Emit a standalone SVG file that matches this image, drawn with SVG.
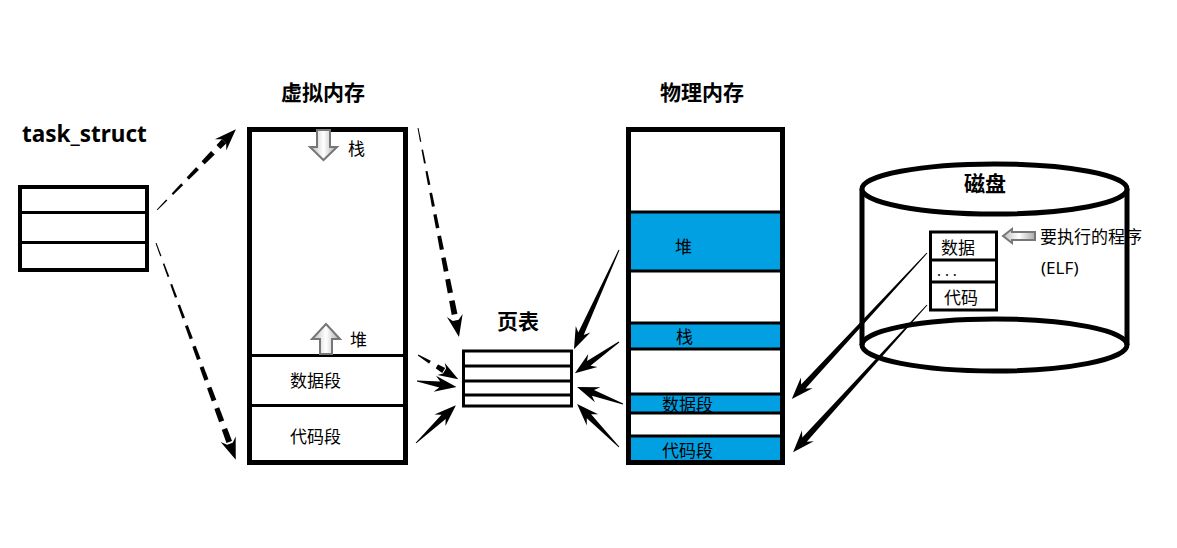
<svg xmlns="http://www.w3.org/2000/svg" width="1177" height="548" viewBox="0 0 1177 548">
<style>
.box{fill:none;stroke:#000;stroke-width:5}
.ln{stroke:#000;stroke-width:3}
.t{font-family:"Noto Sans CJK SC",sans-serif;font-size:17px;fill:#000}
.tt{font-family:"Noto Sans CJK SC",sans-serif;font-size:21px;font-weight:bold;fill:#000;text-anchor:middle}
.hol{fill:url(#hg);stroke:#777;stroke-width:2}
</style>
<defs>
<linearGradient id="hg" x1="0" y1="0" x2="1" y2="0">
<stop offset="0" stop-color="#bbb"/><stop offset="0.5" stop-color="#fff"/><stop offset="1" stop-color="#aaa"/>
</linearGradient>
<mask id="dash" maskUnits="userSpaceOnUse" x="-10" y="-30" width="420" height="60">
<line x1="0" y1="0" x2="400" y2="0" stroke="#fff" stroke-width="30" stroke-dasharray="14 8"/>
</mask>
</defs>
<rect width="1177" height="548" fill="#fff"/>

<g id="task_struct">
<text x="22" y="142" font-family="Noto Sans, sans-serif" font-size="22.5" font-weight="bold">task_struct</text>
<rect x="20" y="187" width="127" height="83" fill="#fff" stroke="#000" stroke-width="4"/>
<line class="ln" x1="20" y1="212.5" x2="147" y2="212.5"/>
<line class="ln" x1="20" y1="242.5" x2="147" y2="242.5"/>
</g>

<g id="virtual">
<text class="tt" x="323" y="100">虚拟内存</text>
<rect class="box" x="249.5" y="129.5" width="156" height="333"/>
<line class="ln" x1="249" y1="355.5" x2="406" y2="355.5"/>
<line class="ln" x1="249" y1="405.5" x2="406" y2="405.5"/>
<path class="hol" d="M317,130 L330,130 L330,147 L337,147 L323.5,160 L310,147 L317,147 Z"/>
<text class="t" x="348" y="155" font-size="16">栈</text>
<path class="hol" d="M326,324 L340,339 L332,339 L332,354 L320,354 L320,339 L312,339 Z"/>
<text class="t" x="350" y="346" font-size="16">堆</text>
<text class="t" x="290" y="387">数据段</text>
<text class="t" x="290" y="443">代码段</text>
</g>

<g id="pagetable">
<text class="tt" x="518" y="329">页表</text>
<rect x="463.5" y="351" width="108" height="55" fill="#fff" stroke="#000" stroke-width="3"/>
<line class="ln" x1="463" y1="366" x2="572" y2="366"/>
<line class="ln" x1="463" y1="381" x2="572" y2="381"/>
<line class="ln" x1="463" y1="395" x2="572" y2="395"/>
</g>

<g id="physical">
<text class="tt" x="702" y="100">物理内存</text>
<rect x="628.5" y="212" width="154" height="59" fill="#00a0e3" stroke="#000" stroke-width="3"/>
<rect x="628.5" y="323" width="154" height="26" fill="#00a0e3" stroke="#000" stroke-width="3"/>
<rect x="628.5" y="394" width="154" height="19" fill="#00a0e3" stroke="#000" stroke-width="3"/>
<rect x="628.5" y="436" width="154" height="27" fill="#00a0e3" stroke="#000" stroke-width="3"/>
<rect class="box" x="628.5" y="129.5" width="154" height="333"/>
<text class="t" x="675" y="253">堆</text>
<text class="t" x="676" y="343">栈</text>
<text class="t" x="662" y="411">数据段</text>
<text class="t" x="662" y="457">代码段</text>
</g>

<g id="disk">
<line x1="862" y1="189" x2="862" y2="345" stroke="#000" stroke-width="5"/>
<line x1="1127" y1="189" x2="1127" y2="345" stroke="#000" stroke-width="5"/>
<ellipse cx="994.5" cy="345" rx="132.5" ry="26" fill="none" stroke="#000" stroke-width="5"/>
<ellipse cx="994.5" cy="189" rx="132.5" ry="25" fill="#fff" stroke="#000" stroke-width="5"/>
<text class="tt" x="985" y="191">磁盘</text>
<rect x="930.5" y="232" width="66" height="78" fill="#fff" stroke="#000" stroke-width="3"/>
<line class="ln" x1="930" y1="260" x2="997" y2="260"/>
<line class="ln" x1="930" y1="282" x2="997" y2="282"/>
<text class="t" x="941" y="254">数据</text>
<text x="937" y="276" font-family="Noto Sans, sans-serif" font-size="15">. . .</text>
<text class="t" x="944" y="304">代码</text>
<path class="hol" d="M1003,236 L1012,229 L1012,232 L1035,232 L1035,240 L1012,240 L1012,243 Z"/>
<text class="t" x="1040" y="243" font-size="16">要执行的程序</text>
<text x="1041" y="274" font-family="Noto Sans, sans-serif" font-size="17">(ELF)</text>
</g>

<g id="connectors" fill="#000">
<g transform="translate(157,210) rotate(-45.7)">
<path mask="url(#dash)" d="M0,-0.5 L96,-3 L96,3 L0,0.5Z"/>
<path d="M113,0 L91,-8 L96,-3 L96,3 L91,8Z"/>
</g>
<g transform="translate(156,243) rotate(69.8)">
<path mask="url(#dash)" d="M0,-0.5 L214,-3 L214,3 L0,0.5Z"/>
<path d="M231,0 L209,-8 L214,-3 L214,3 L209,8Z"/>
</g>
<g transform="translate(418,128) rotate(78.9)">
<path mask="url(#dash)" d="M0,-0.5 L196,-3 L196,3 L0,0.5Z"/>
<path d="M213,0 L191,-8 L196,-3 L196,3 L191,8Z"/>
</g>
<g transform="translate(418,355) rotate(31)">
<path mask="url(#dash)" d="M0,-0.5 L30,-3 L30,3 L0,0.5Z"/>
<path d="M47,0 L27,-7 L31,-3 L31,3 L27,7Z"/>
</g>
<path transform="translate(417,381) rotate(8.7)" d="M0,-0.5 L23,-3 L18,-8 L40,0 L18,8 L23,3 L0,0.5Z"/>
<path transform="translate(416,443) rotate(-43.5)" d="M0,-0.5 L38,-3 L33,-8 L55,0 L33,8 L38,3 L0,0.5Z"/>
<path transform="translate(619,250) rotate(114.4)" d="M0,-0.5 L92,-3 L87,-8 L109,0 L87,8 L92,3 L0,0.5Z"/>
<path transform="translate(619,342) rotate(144.8)" d="M0,-0.5 L37,-3 L32,-8 L54,0 L32,8 L37,3 L0,0.5Z"/>
<path transform="translate(623,404) rotate(-159.7)" d="M0,-0.5 L32,-3 L27,-8 L49,0 L27,8 L32,3 L0,0.5Z"/>
<path transform="translate(619,447) rotate(-134.3)" d="M0,-0.5 L43,-3 L38,-8 L60,0 L38,8 L43,3 L0,0.5Z"/>
<path transform="translate(927,253) rotate(132.8)" d="M0,-0.5 L182,-3 L177,-8 L199,0 L177,8 L182,3 L0,0.5Z"/>
<path transform="translate(927,305) rotate(132.3)" d="M0,-0.5 L182,-3 L177,-8 L199,0 L177,8 L182,3 L0,0.5Z"/>
</g>
</svg>
